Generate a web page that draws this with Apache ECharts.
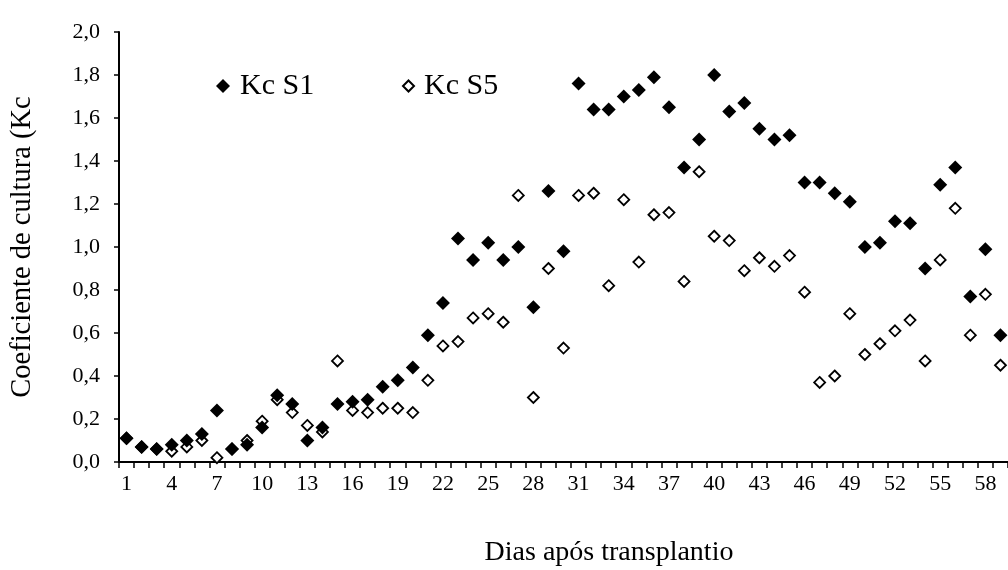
<!DOCTYPE html>
<html>
<head>
<meta charset="utf-8">
<script src="https://cdn.jsdelivr.net/npm/echarts@6/dist/echarts.min.js"></script>
<style>
  html, body { margin: 0; padding: 0; background: #fff; }
  #chart { width: 1008px; height: 570px; }
</style>
</head>
<body>
<div id="chart"></div>
<script>
// Days after transplanting (categories)
const days = [];
for (let d = 1; d <= 59; d++) days.push(String(d));

// Crop coefficient, treatment S1
const kcS1 = [
  0.11, 0.07, 0.06, 0.08, 0.10, 0.13, 0.24, 0.06, 0.08, 0.16,
  0.31, 0.27, 0.10, 0.16, 0.27, 0.28, 0.29, 0.35, 0.38, 0.44,
  0.59, 0.74, 1.04, 0.94, 1.02, 0.94, 1.00, 0.72, 1.26, 0.98,
  1.76, 1.64, 1.64, 1.70, 1.73, 1.79, 1.65, 1.37, 1.50, 1.80,
  1.63, 1.67, 1.55, 1.50, 1.52, 1.30, 1.30, 1.25, 1.21, 1.00,
  1.02, 1.12, 1.11, 0.90, 1.29, 1.37, 0.77, 0.99, 0.59
];

// Crop coefficient, treatment S5
const kcS5 = [
  0.11, 0.07, 0.06, 0.05, 0.07, 0.10, 0.02, 0.06, 0.10, 0.19,
  0.29, 0.23, 0.17, 0.14, 0.47, 0.24, 0.23, 0.25, 0.25, 0.23,
  0.38, 0.54, 0.56, 0.67, 0.69, 0.65, 1.24, 0.30, 0.90, 0.53,
  1.24, 1.25, 0.82, 1.22, 0.93, 1.15, 1.16, 0.84, 1.35, 1.05,
  1.03, 0.89, 0.95, 0.91, 0.96, 0.79, 0.37, 0.40, 0.69, 0.50,
  0.55, 0.61, 0.66, 0.47, 0.94, 1.18, 0.59, 0.78, 0.45
];

const seriesNames = ['Kc S1', 'Kc S5'];
const yTitle = 'Coeficiente de cultura (Kc';
const xTitle = 'Dias após transplantio';

const FONT = "'Liberation Serif', 'Times New Roman', serif";

const chart = echarts.init(document.getElementById('chart'), null, { renderer: 'canvas' });

chart.setOption({
  backgroundColor: '#ffffff',
  animation: false,
  grid: { left: 118, top: 32, height: 430, width: 895, containLabel: false },
  legend: [
    {
      left: 211, top: 66, orient: 'horizontal',
      itemWidth: 14, itemHeight: 14,
      data: [{ name: seriesNames[0], icon: 'diamond' }],
      textStyle: { fontFamily: FONT, fontSize: 30, color: '#000', padding: [0, 0, 0, 5] }
    },
    {
      left: 397, top: 66, orient: 'horizontal',
      itemWidth: 11, itemHeight: 11,
      data: [{ name: seriesNames[1], icon: 'diamond' }],
      textStyle: { fontFamily: FONT, fontSize: 30, color: '#000', padding: [0, 0, 0, 5] }
    }
  ],
  xAxis: {
    type: 'category',
    data: days,
    boundaryGap: true,
    axisLine: { show: true, lineStyle: { color: '#000', width: 2 } },
    axisTick: { show: true, interval: 0, inside: false, length: 6, lineStyle: { color: '#000', width: 1.5 } },
    axisLabel: { interval: 2, margin: 11, fontFamily: FONT, fontSize: 22, color: '#000' },
    splitLine: { show: false }
  },
  yAxis: {
    type: 'value',
    min: 0, max: 2, interval: 0.2,
    name: yTitle,
    nameLocation: 'middle',
    nameGap: 82,
    nameRotate: 90,
    nameTextStyle: { fontFamily: FONT, fontSize: 28.5, color: '#000' },
    axisLine: { show: true, lineStyle: { color: '#000', width: 2 } },
    axisTick: { show: true, inside: false, length: 5, lineStyle: { color: '#000', width: 1.5 } },
    axisLabel: {
      margin: 19, fontFamily: FONT, fontSize: 22, color: '#000',
      formatter: v => v.toFixed(1).replace('.', ',')
    },
    splitLine: { show: false }
  },
  graphic: [
    {
      type: 'text',
      x: 609, y: 553,
      style: {
        text: xTitle,
        fontFamily: FONT, fontSize: 28, fill: '#000',
        textAlign: 'center', textVerticalAlign: 'middle'
      }
    }
  ],
  series: [
    {
      name: seriesNames[1],
      type: 'scatter',
      data: kcS5,
      symbol: 'diamond',
      symbolSize: 11,
      z: 2,
      itemStyle: { color: '#ffffff', borderColor: '#000', borderWidth: 1.8, opacity: 1 }
    },
    {
      name: seriesNames[0],
      type: 'scatter',
      data: kcS1,
      symbol: 'diamond',
      symbolSize: 14,
      z: 3,
      itemStyle: { color: '#000', borderWidth: 0, opacity: 1 }
    }
  ]
});
</script>
</body>
</html>
